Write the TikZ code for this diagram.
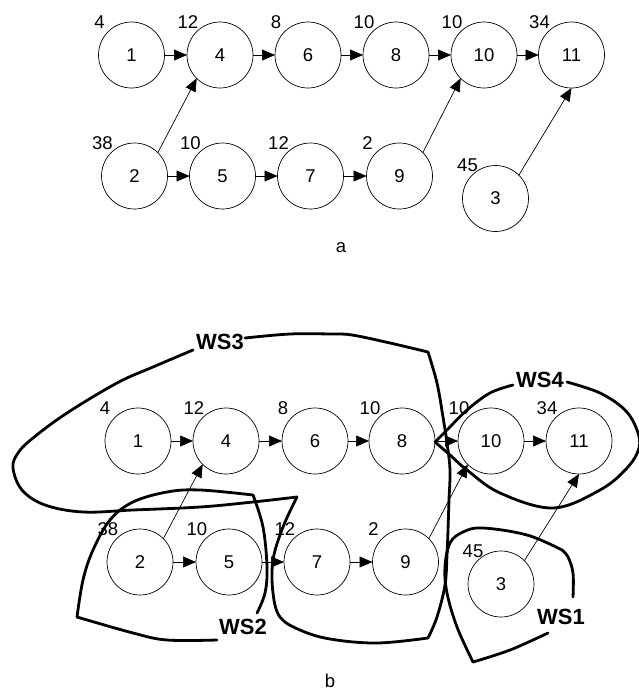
\documentclass[tikz,border=0pt]{standalone}
\usepackage{fontspec}
\setmainfont{Liberation Sans}
\usetikzlibrary{arrows.meta}
\begin{document}
\begin{tikzpicture}[x=1pt,y=-1pt,
  task/.style={circle,draw,line width=0.7pt,minimum size=66pt,inner sep=0pt,outer sep=0pt,font=\fontsize{18.5}{20}\selectfont},
  wt/.style={font=\fontsize{18.5}{20}\selectfont,inner sep=0pt},
  prec/.style={line width=0.7pt,-{Triangle[length=13pt,width=11pt]}},
  ws/.style={line width=2.8pt,line join=round,line cap=round},
  wslab/.style={font=\bfseries\fontsize{22}{24}\selectfont,inner sep=0pt}]
\useasboundingbox (0,0) rectangle (638,691);

% ---------- part a ----------
\node[task] (a1)  at (131.5,55) {1};
\node[task] (a4)  at (220,55)   {4};
\node[task] (a6)  at (308,55)   {6};
\node[task] (a8)  at (396,55)   {8};
\node[task] (a10) at (484,55)   {10};
\node[task] (a11) at (571.5,55) {11};
\node[task] (a2)  at (134.5,176) {2};
\node[task] (a5)  at (222.5,176) {5};
\node[task] (a7)  at (310.5,176) {7};
\node[task] (a9)  at (399.5,176) {9};
\node[task] (a3)  at (495.5,198.5) {3};

\node[wt] (wa1)  at (99.5,22)  {4};
\node[wt] (wa4)  at (188,22)   {12};
\node[wt] (wa6)  at (276,22)   {8};
\node[wt] (wa8)  at (364,22)   {10};
\node[wt] (wa10) at (452,22)   {10};
\node[wt] (wa11) at (539.5,22) {34};
\node[wt] (wa2)  at (102.5,143) {38};
\node[wt] (wa5)  at (190.5,143) {10};
\node[wt] (wa7)  at (278.5,143) {12};
\node[wt] (wa9)  at (367.5,143) {2};
\node[wt] (wa3)  at (467.5,165.5) {45};

\node[wt,anchor=base] (capa) at (341,252) {a};

% ---------- part b ----------
\node[task] (b1)  at (138,441) {1};
\node[task] (b4)  at (226,441) {4};
\node[task] (b6)  at (315,441) {6};
\node[task] (b8)  at (402,441) {8};
\node[task] (b10) at (491,441) {10};
\node[task] (b11) at (579,441) {11};
\node[task] (b2)  at (140,562) {2};
\node[task] (b5)  at (229,562) {5};
\node[task] (b7)  at (317,562) {7};
\node[task] (b9)  at (405.5,562) {9};
\node[task] (b3)  at (501,584) {3};

\node[wt] (wb1)  at (105,408) {4};
\node[wt] (wb4)  at (194,408) {12};
\node[wt] (wb6)  at (283,408) {8};
\node[wt] (wb8)  at (370,408) {10};
\node[wt] (wb10) at (459,408) {10};
\node[wt] (wb11) at (547,408) {34};
\node[wt] (wb2)  at (108,529) {38};
\node[wt] (wb5)  at (197,529) {10};
\node[wt] (wb7)  at (285,529) {12};
\node[wt] (wb9)  at (373.5,529) {2};
\node[wt] (wb3)  at (473,551) {45};

\node[wt] (capb) at (330,681) {b};

% ---------- precedence arcs ----------
\foreach \p in {a,b}{
  \draw[prec] (\p1) -- (\p4);
  \draw[prec] (\p4) -- (\p6);
  \draw[prec] (\p6) -- (\p8);
  \draw[prec] (\p8) -- (\p10);
  \draw[prec] (\p10) -- (\p11);
  \draw[prec] (\p2) -- (\p5);
  \draw[prec] (\p5) -- (\p7);
  \draw[prec] (\p7) -- (\p9);
  \draw[prec] (\p2.north east) -- (\p4.south west);
  \draw[prec] (\p9.north east) -- (\p10.south west);
  \draw[prec] (\p3.north east) -- (\p11.south);
}

% ---------- workstations ----------
% WS3
\draw[ws] plot[smooth,tension=0.6] coordinates {(245,338) (290,334) (330,334) (352,335) (390,343) (428,352)};
\draw[ws] plot[smooth,tension=0.6] coordinates {(428,352) (437,383) (443,417) (447,443) (450,470) (449,500) (448,530) (447,555) (445,585) (437,617) (428,638)};
\draw[ws] plot[smooth,tension=0.6] coordinates {(428,638) (377,643) (330,639) (300,630) (280,617) (273,593) (273,560) (283,527) (297,497)};
\draw[ws] plot[smooth,tension=0.6] coordinates {(297,497) (253,502) (200,507) (133,510) (83,512) (45,505) (22,490) (13,468) (18,453) (33,438) (67,413) (117,383) (153,367) (193,350)};
\node[wslab] (lws3) at (220,342) {WS3};

% WS4
\draw[ws] plot[smooth,tension=0.6] coordinates {(435,442) (447,430) (467,410) (490,393) (513,385)};
\draw[ws] plot[smooth,tension=0.6] coordinates {(567,382) (600,393) (625,410) (637,430) (639,448) (627,468) (600,490) (553,508) (500,493) (467,470) (450,455) (435,442)};
\node[wslab] (lws4) at (540,380) {WS4};

% WS2
\draw[ws] plot[smooth,tension=0.6] coordinates {(257,613) (265,593) (267,567) (263,527) (253,495)};
\draw[ws] plot[smooth,tension=0.6] coordinates {(253,495) (200,490) (167,492) (133,502) (110,520) (93,550) (83,580) (77,617)};
\draw[ws] plot[smooth,tension=0.6] coordinates {(77,617) (133,633) (167,640) (217,640)};
\node[wslab] (lws2) at (243,627) {WS2};

% WS1
\draw[ws] plot[smooth,tension=0.6] coordinates {(573,597) (573,573) (568,557) (562,550)};
\draw[ws] plot[smooth,tension=0.6] coordinates {(562,550) (527,535) (483,528) (463,532) (450,543) (445,567) (447,593) (457,627) (473,662)};
\draw[ws] plot[smooth,tension=0.6] coordinates {(473,662) (510,650) (548,633)};
\node[wslab] (lws1) at (561,617) {WS1};
\end{tikzpicture}
\end{document}
